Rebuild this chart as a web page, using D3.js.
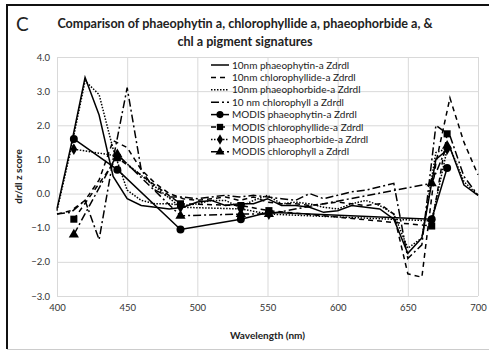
<!DOCTYPE html>
<html>
<head>
<meta charset="utf-8">
<script src="https://cdn.jsdelivr.net/npm/d3@7"></script>
<style>
  body { margin: 0; background: #fff; }
  text { font-family: Lato, "Open Sans", sans-serif; fill: #222; }
</style>
</head>
<body>
<div id="chart"></div>
<script>
// 10 nm resolution wavelengths
var wl10 = [400, 410, 420, 430, 440, 450, 460, 470, 480, 490, 500, 510, 520, 530, 540, 550,
  560, 570, 580, 590, 600, 610, 620, 630, 640, 650, 660, 670, 680, 690, 700];
var phaeophytin10 = [-0.45, 1.4, 3.4, 2.3, 0.5, -0.15, -0.35, -0.4, -0.45, -0.4, -0.25, -0.2, -0.35, -0.3, -0.3, -0.15,
  -0.35, -0.35, -0.4, -0.55, -0.5, -0.35, -0.4, -0.45, -0.75, -1.75, -1.3, 1.0, 1.35, 0.25, -0.05];
var chlorophyllide10 = [-0.6, -0.5, -0.2, 0.4, 1.55, 1.35, 0.7, 0.3, 0.0, -0.15, -0.2, -0.15, -0.1, -0.2, -0.1, -0.25,
  -0.3, -0.3, -0.35, -0.3, -0.25, -0.3, -0.35, -0.3, -0.6, -2.35, -2.45, 0.9, 2.8, 1.5, 0.55];
var phaeophorbide10 = [-0.5, 1.3, 3.3, 2.9, 1.3, 0.1, -0.2, -0.3, -0.3, -0.35, -0.3, -0.2, -0.2, -0.4, -0.2, -0.05,
  -0.3, -0.25, -0.3, -0.4, -0.45, -0.3, -0.2, -0.35, -0.6, -1.6, -1.3, 1.2, 1.35, 0.35, -0.05];
var chlorophyll10 = [-0.6, -0.55, -0.2, -1.35, 1.0, 3.1, 0.7, 0.1, -0.1, -0.1, -0.15, -0.1, -0.05, -0.1, -0.05, -0.1,
  -0.15, -0.2, 0.0, -0.15, -0.05, 0.05, 0.1, 0.2, 0.3, -1.9, -1.5, 2.0, 1.7, 0.5, -0.05];

// MODIS bands
var modisBands = [412, 443, 488, 531, 551, 667, 678];
var modisPhaeophytin = [1.6, 0.7, -1.05, -0.75, -0.55, -0.75, 0.75];
var modisChlorophyllide = [-0.75, 1.05, -0.3, -0.35, -0.5, -0.95, 1.75];
var modisPhaeophorbide = [1.3, 1.1, -0.4, -0.45, -0.6, -0.8, 1.3];
var modisChlorophyll = [-1.2, 1.15, -0.65, -0.6, -0.6, 0.3, 1.4];

var yTicks = [-3, -2, -1, 0, 1, 2, 3, 4];
var xTicks = [400, 450, 500, 550, 600, 650, 700];

var width = 489, height = 351;
var margin = { left: 57, right: 11, top: 57, bottom: 55 };

var svg = d3.select('#chart')
  .append('svg')
  .attr('width', width)
  .attr('height', height);

// frame of the figure panel
svg.append('line').attr('x1', 7).attr('y1', 5).attr('x2', 7).attr('y2', 349)
  .style('stroke', '#111').style('stroke-width', 2);
svg.append('line').attr('x1', 6).attr('y1', 5).attr('x2', width).attr('y2', 5)
  .style('stroke', '#111').style('stroke-width', 2);
svg.append('line').attr('x1', 7).attr('y1', 349.5).attr('x2', width).attr('y2', 349.5)
  .style('stroke', '#ccc').style('stroke-width', 1);

var x = d3.scaleLinear().domain([400, 700]).range([margin.left, width - margin.right]);
var y = d3.scaleLinear().domain([-3, 4]).range([height - margin.bottom, margin.top]);

// grid
svg.append('g')
  .attr('class', 'ygrid')
  .attr('transform', 'translate(' + margin.left + ',0)')
  .call(d3.axisLeft(y).tickValues(yTicks).tickSize(-(x.range()[1] - x.range()[0])).tickFormat(d3.format('.1f')))
  .call(function(g) {
    g.select('.domain').remove();
    g.selectAll('line').style('stroke', '#d9d9d9');
    g.selectAll('text').attr('x', -7).style('font-size', '9.5px').style('fill', '#333');
  });

svg.append('g')
  .attr('class', 'xgrid')
  .attr('transform', 'translate(0,' + y(-3) + ')')
  .call(d3.axisBottom(x).tickValues(xTicks).tickSize(-(y.range()[0] - y.range()[1])))
  .call(function(g) {
    g.select('.domain').remove();
    g.selectAll('line').style('stroke', '#d9d9d9');
    g.selectAll('text').attr('y', 8).style('font-size', '9.5px').style('fill', '#333');
  });

var series = [
  { name: '10nm phaeophytin-a Zdrdl', xs: wl10, ys: phaeophytin10, dash: null, marker: null },
  { name: '10nm chlorophyllide-a Zdrdl', xs: wl10, ys: chlorophyllide10, dash: '5,4', marker: null },
  { name: '10nm phaeophorbide-a Zdrdl', xs: wl10, ys: phaeophorbide10, dash: '1.5,1.5', marker: null },
  { name: '10 nm chlorophyll a Zdrdl', xs: wl10, ys: chlorophyll10, dash: '8,3,2,3', marker: null },
  { name: 'MODIS phaeophytin-a Zdrdl', xs: modisBands, ys: modisPhaeophytin, dash: null, marker: d3.symbolCircle, size: 50 },
  { name: 'MODIS chlorophyllide-a Zdrdl', xs: modisBands, ys: modisChlorophyllide, dash: '5,4', marker: d3.symbolSquare, size: 50 },
  { name: 'MODIS phaeophorbide-a Zdrdl', xs: modisBands, ys: modisPhaeophorbide, dash: '1.5,1.5', marker: d3.symbolDiamond, size: 40 },
  { name: 'MODIS chlorophyll a Zdrdl', xs: modisBands, ys: modisChlorophyll, dash: '8,3,2,3', marker: d3.symbolTriangle, size: 45 }
];

var line = d3.line()
  .x(function(d) { return x(d[0]); })
  .y(function(d) { return y(d[1]); });

var lines = svg.append('g').attr('class', 'lines');
var markers = svg.append('g').attr('class', 'markers');

series.forEach(function(s) {
  var pts = s.xs.map(function(v, i) { return [v, s.ys[i]]; });
  lines.append('path')
    .datum(pts)
    .attr('d', line)
    .style('fill', 'none')
    .style('stroke', '#000')
    .style('stroke-width', 1.5)
    .style('stroke-dasharray', s.dash);
  if (s.marker) {
    markers.selectAll(null)
      .data(pts)
      .enter()
      .append('path')
      .attr('d', d3.symbol().type(s.marker).size(s.size))
      .attr('transform', function(d) { return 'translate(' + x(d[0]) + ',' + y(d[1]) + ')'; })
      .style('fill', '#000');
  }
});

// legend
var legend = svg.append('g').attr('class', 'legend');
series.forEach(function(s, i) {
  var ly = 65 + i * 12.4;
  var row = legend.append('g').attr('transform', 'translate(0,' + ly + ')');
  row.append('line')
    .attr('x1', 211).attr('x2', 229)
    .style('stroke', '#000')
    .style('stroke-width', 1.5)
    .style('stroke-dasharray', s.dash);
  if (s.marker) {
    row.append('path')
      .attr('d', d3.symbol().type(s.marker).size(s.size * 0.8))
      .attr('transform', 'translate(220,0)')
      .style('fill', '#000');
  }
  row.append('text')
    .attr('x', 232)
    .attr('dy', '0.35em')
    .style('font-size', '10px')
    .text(s.name);
});

// titles
svg.append('text')
  .attr('x', 16).attr('y', 31)
  .style('font-size', '19px')
  .text('C');

svg.append('text')
  .attr('x', 245).attr('y', 28)
  .attr('text-anchor', 'middle')
  .style('font-size', '12.6px')
  .style('font-weight', 'bold')
  .text('Comparison of phaeophytin a, chlorophyllide a, phaeophorbide a, &');

svg.append('text')
  .attr('x', 245).attr('y', 46)
  .attr('text-anchor', 'middle')
  .style('font-size', '12.6px')
  .style('font-weight', 'bold')
  .text('chl a pigment signatures');

svg.append('text')
  .attr('text-anchor', 'middle')
  .attr('transform', 'translate(22,' + y(0.5) + ') rotate(-90)')
  .style('font-size', '10px')
  .style('font-weight', 'bold')
  .text('dr/dl z score');

svg.append('text')
  .attr('x', (x(400) + x(700)) / 2)
  .attr('y', 339)
  .attr('text-anchor', 'middle')
  .style('font-size', '10px')
  .style('font-weight', 'bold')
  .text('Wavelength (nm)');
</script>
</body>
</html>
